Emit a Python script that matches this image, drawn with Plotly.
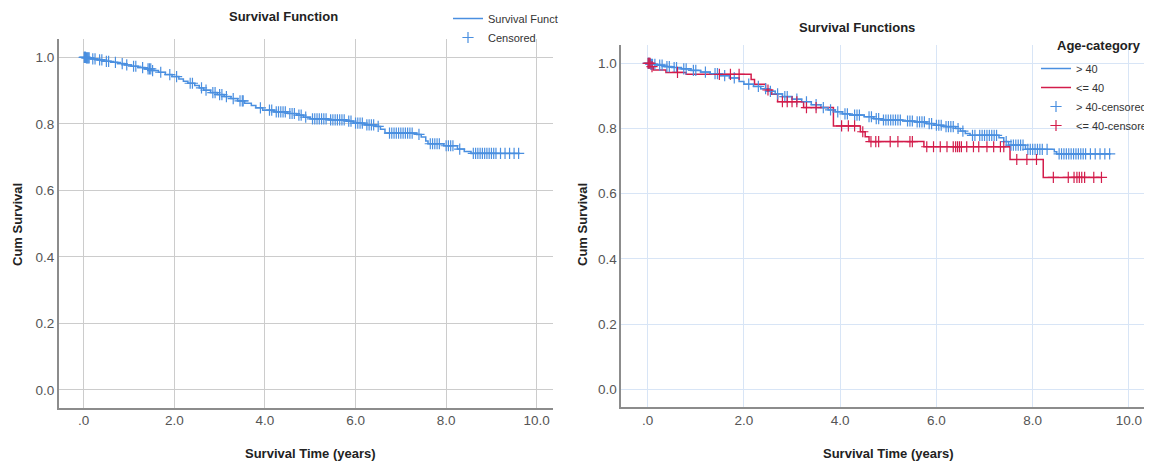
import numpy as np
import plotly.graph_objects as go

# ---------------- data ----------------
x_tick_vals = [0, 2, 4, 6, 8, 10]
x_tick_text = [".0", "2.0", "4.0", "6.0", "8.0", "10.0"]
y_tick_vals = [0.0, 0.2, 0.4, 0.6, 0.8, 1.0]
y_tick_text = ["0.0", "0.2", "0.4", "0.6", "0.8", "1.0"]

# Left: overall survival function (event times, survival after event)
left_event_t = [0.05, 0.15, 0.3, 0.45, 0.6, 0.75, 0.9, 1.05, 1.2, 1.35, 1.5, 1.65, 1.8, 1.95, 2.1,
                2.2, 2.3, 2.45, 2.55, 2.65, 2.8, 2.95, 3.1, 3.25, 3.4, 3.55, 3.7, 3.8, 3.95, 4.2,
                4.5, 4.7, 4.85, 5.0, 5.4, 5.8, 5.95, 6.2, 6.45, 6.55, 6.65, 7.35, 7.45, 7.55, 7.6,
                7.95, 8.25, 8.4, 8.55]
left_event_s = [0.998, 0.995, 0.992, 0.988, 0.985, 0.981, 0.977, 0.973, 0.969, 0.965, 0.960, 0.955,
                0.948, 0.942, 0.935, 0.928, 0.922, 0.915, 0.908, 0.901, 0.894, 0.888, 0.882, 0.876,
                0.869, 0.862, 0.855, 0.848, 0.841, 0.836, 0.831, 0.826, 0.820, 0.815, 0.812, 0.808,
                0.802, 0.797, 0.792, 0.784, 0.772, 0.768, 0.760, 0.748, 0.740, 0.734, 0.724, 0.717,
                0.711]
left_end_t = 9.63
left_censor_t = [0.01, 0.02, 0.03, 0.04, 0.06, 0.08, 0.1, 0.12, 0.2, 0.25, 0.35, 0.4, 0.5, 0.55, 0.7,
                 0.85, 0.95, 1.1, 1.15, 1.3, 1.42, 1.45, 1.48, 1.52, 1.7, 1.9, 2.05, 2.35, 2.4, 2.6,
                 2.7, 2.85, 2.9, 3.0, 3.05, 3.15, 3.3, 3.45, 3.5, 3.52, 3.9, 4.1, 4.15, 4.25, 4.3,
                 4.35, 4.4, 4.45, 4.55, 4.6, 4.65, 4.75, 4.8, 4.9, 5.05, 5.1, 5.15, 5.2, 5.25, 5.3,
                 5.35, 5.45, 5.5, 5.55, 5.6, 5.65, 5.7, 5.75, 5.85, 5.9, 6.0, 6.05, 6.1, 6.15, 6.25,
                 6.3, 6.35, 6.4, 6.5, 6.75, 6.8, 6.85, 6.9, 6.95, 7.0, 7.05, 7.1, 7.15, 7.2, 7.25,
                 7.4, 7.65, 7.7, 7.75, 7.8, 7.85, 8.0, 8.05, 8.1, 8.15, 8.3, 8.6, 8.65, 8.7, 8.75,
                 8.8, 8.85, 8.9, 8.95, 9.0, 9.05, 9.1, 9.2, 9.3, 9.4, 9.5, 9.6]

# Right: by age category
gt40_event_t = [0.05, 0.2, 0.35, 0.5, 0.7, 0.9, 1.1, 1.3, 1.5, 1.7, 1.9, 2.0, 2.2, 2.35, 2.5, 2.65,
                2.8, 3.0, 3.2, 3.4, 3.6, 3.75, 3.9, 4.05, 4.2, 4.5, 4.7, 4.85, 5.3, 5.55, 5.8, 5.95,
                6.15, 6.4, 6.5, 6.6, 6.7, 7.3, 7.4, 7.5, 7.85, 8.45, 8.5]
gt40_event_s = [0.997, 0.994, 0.99, 0.987, 0.983, 0.978, 0.973, 0.968, 0.962, 0.955, 0.944, 0.936,
                0.929, 0.922, 0.914, 0.906, 0.898, 0.89, 0.882, 0.873, 0.864, 0.857, 0.851, 0.845,
                0.841, 0.836, 0.83, 0.826, 0.823, 0.82, 0.815, 0.81, 0.806, 0.80, 0.792, 0.785,
                0.779, 0.772, 0.76, 0.749, 0.736, 0.729, 0.722]
gt40_end_t = 9.62
gt40_censor_t = [0.01, 0.02, 0.04, 0.06, 0.08, 0.1, 0.15, 0.25, 0.3, 0.4, 0.45, 0.55, 0.6, 0.75, 0.8,
                 0.95, 1.0, 1.2, 1.4, 1.45, 1.6, 1.8, 2.1, 2.3, 2.45, 2.55, 2.7, 2.85, 2.9, 3.1, 3.3,
                 3.5, 3.65, 3.8, 3.95, 4.1, 4.15, 4.3, 4.35, 4.4, 4.6, 4.65, 4.75, 4.8, 4.9, 4.95, 5.0,
                 5.05, 5.1, 5.15, 5.2, 5.25, 5.4, 5.45, 5.5, 5.6, 5.65, 5.7, 5.75, 5.85, 5.9, 6.0,
                 6.05, 6.1, 6.2, 6.25, 6.3, 6.35, 6.45, 6.55, 6.75, 6.8, 6.9, 6.95, 7.0, 7.05, 7.1,
                 7.15, 7.2, 7.25, 7.45, 7.55, 7.6, 7.65, 7.7, 7.75, 7.8, 7.9, 7.95, 8.0, 8.05, 8.1,
                 8.15, 8.2, 8.3, 8.55, 8.6, 8.65, 8.7, 8.75, 8.8, 8.85, 8.9, 8.95, 9.0, 9.05, 9.1,
                 9.2, 9.3, 9.4, 9.5, 9.6]

le40_event_t = [0.07, 0.12, 0.38, 0.8, 2.15, 2.22, 2.45, 2.58, 2.7, 3.24, 3.86, 4.42, 4.52, 4.6,
                5.74, 7.53, 8.22]
le40_event_s = [0.99, 0.979, 0.972, 0.966, 0.95, 0.936, 0.918, 0.905, 0.882, 0.864, 0.808, 0.79,
                0.775, 0.76, 0.744, 0.705, 0.650]
le40_end_t = 9.43
le40_censor_t = [0.01, 0.03, 0.05, 0.09, 0.62, 1.49, 1.72, 1.9, 2.5, 2.8, 2.9, 3.0, 3.1, 3.3, 3.5,
                 4.03, 4.17, 4.3, 4.47, 4.64, 4.74, 4.8, 5.04, 5.2, 5.45, 5.5, 5.8, 5.94, 6.08, 6.22,
                 6.35, 6.4, 6.44, 6.48, 6.52, 6.63, 6.77, 6.88, 7.05, 7.19, 7.33, 7.4, 7.67, 7.88,
                 8.08, 8.43, 8.74, 8.86, 8.92, 8.97, 9.02, 9.08, 9.27, 9.43]

# ---------------- helpers ----------------
def step_xy(ev_t, ev_s, end_t):
    return [0.0] + list(ev_t) + [end_t], [1.0] + list(ev_s) + [ev_s[-1]]

def surv_at(ev_t, ev_s, times):
    ev_t = np.asarray(ev_t)
    ev_s = np.asarray([1.0] + list(ev_s))
    idx = np.searchsorted(ev_t, np.asarray(times), side="right")
    return ev_s[idx]

FONT = "Liberation Sans, Arial, sans-serif"
BLUE = "#4A8FE0"
RED = "#D31C4B"
OFF = 8                      # page body margin offset
W, H = 1152 - OFF, 466 - OFF

def px_x(p):
    return (p - OFF) / W

def px_y(p):
    return 1 - (p - OFF) / H

fig = go.Figure()

# left panel
lx, ly = step_xy(left_event_t, left_event_s, left_end_t)
fig.add_trace(go.Scatter(x=lx, y=ly, mode="lines", line=dict(shape="hv", color=BLUE, width=1.5),
                         name="Survival Funct", xaxis="x", yaxis="y", legend="legend"))
fig.add_trace(go.Scatter(x=left_censor_t, y=surv_at(left_event_t, left_event_s, left_censor_t),
                         mode="markers", name="Censored", xaxis="x", yaxis="y", legend="legend",
                         marker=dict(symbol="cross-thin", size=8, line=dict(color=BLUE, width=1.2),
                                     color=BLUE)))

# right panel
bx, by = step_xy(gt40_event_t, gt40_event_s, gt40_end_t)
rx, ry = step_xy(le40_event_t, le40_event_s, le40_end_t)
fig.add_trace(go.Scatter(x=bx, y=by, mode="lines", line=dict(shape="hv", color=BLUE, width=1.5),
                         name="> 40", xaxis="x2", yaxis="y2", legend="legend2"))
fig.add_trace(go.Scatter(x=rx, y=ry, mode="lines", line=dict(shape="hv", color=RED, width=1.5),
                         name="<= 40", xaxis="x2", yaxis="y2", legend="legend2"))
fig.add_trace(go.Scatter(x=gt40_censor_t, y=surv_at(gt40_event_t, gt40_event_s, gt40_censor_t),
                         mode="markers", name="> 40-censored", xaxis="x2", yaxis="y2",
                         legend="legend2",
                         marker=dict(symbol="cross-thin", size=8, line=dict(color=BLUE, width=1.2),
                                     color=BLUE)))
fig.add_trace(go.Scatter(x=le40_censor_t, y=surv_at(le40_event_t, le40_event_s, le40_censor_t),
                         mode="markers", name="<= 40-censore", xaxis="x2", yaxis="y2",
                         legend="legend2",
                         marker=dict(symbol="cross-thin", size=8, line=dict(color=RED, width=1.2),
                                     color=RED)))

tick_font = dict(family=FONT, size=13.5, color="#555555")
axis_common = dict(showline=True, linecolor="#8C8C8C", linewidth=1.5, zeroline=False,
                   ticks="", tickfont=tick_font, showgrid=True, gridwidth=1.2)
title_font = dict(family=FONT, size=13, color="#222222")

def label(text, x, y, angle=0, xanchor="center"):
    return dict(text=text, x=px_x(x), y=px_y(y), xref="paper", yref="paper", showarrow=False,
                textangle=angle, xanchor=xanchor, yanchor="middle", font=title_font)

fig.update_layout(
    width=W, height=H,
    margin=dict(l=0, r=0, t=0, b=0, autoexpand=False),
    paper_bgcolor="white", plot_bgcolor="white",
    showlegend=True,
    xaxis=dict(domain=[px_x(58.8), px_x(552.6)], range=[-0.55, 10.35], tickvals=x_tick_vals,
               ticktext=x_tick_text, gridcolor="#CCCCCC", anchor="y", **axis_common),
    yaxis=dict(domain=[px_y(407.5), px_y(39)], range=[-0.053, 1.055], tickvals=y_tick_vals,
               ticktext=y_tick_text, gridcolor="#CCCCCC", anchor="x", **axis_common),
    xaxis2=dict(domain=[px_x(621.2), 1.0], range=[-0.55, 10.48], tickvals=x_tick_vals,
                ticktext=x_tick_text, gridcolor="#D8E5F6", anchor="y2", **axis_common),
    yaxis2=dict(domain=[px_y(406.7), px_y(45)], range=[-0.053, 1.056], tickvals=y_tick_vals,
                ticktext=y_tick_text, gridcolor="#D8E5F6", anchor="x2", **axis_common),
    legend=dict(x=px_x(448), y=px_y(4), xanchor="left", yanchor="top",
                bgcolor="rgba(0,0,0,0)", font=dict(family=FONT, size=11, color="#333333"),
                itemwidth=30),
    legend2=dict(x=px_x(1036), y=px_y(54), xanchor="left", yanchor="top",
                 bgcolor="rgba(0,0,0,0)", font=dict(family=FONT, size=11, color="#333333"),
                 itemwidth=30),
    annotations=[
        label("<b>Survival Function</b>", 283, 17),
        label("<b>Survival Functions</b>", 857, 28),
        label("<b>Cum Survival</b>", 18, 225, angle=-90),
        label("<b>Cum Survival</b>", 583, 225, angle=-90),
        label("<b>Survival Time (years)</b>", 310, 453),
        label("<b>Survival Time (years)</b>", 888, 453),
        label("<b>Age-category</b>", 1055, 46, xanchor="left"),
    ],
)

fig.write_html("out.html")
